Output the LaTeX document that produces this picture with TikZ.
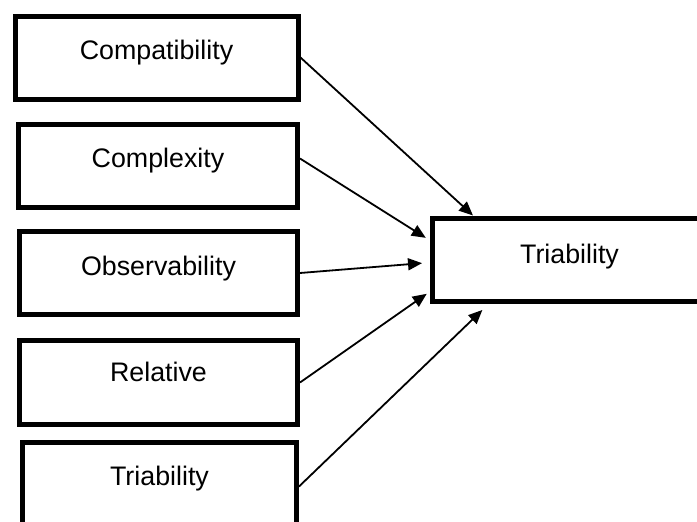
\documentclass[tikz,border=0pt]{standalone}
\usepackage{fontspec}
\setmainfont{Liberation Sans}
\usetikzlibrary{arrows.meta}

\begin{document}
\begin{tikzpicture}[x=1pt,y=-1pt,
    factor/.style={draw=black, line width=5pt, rectangle, inner sep=0pt, minimum height=83pt,
      font=\fontsize{26.8}{32}\selectfont, text height=20pt, text depth=16pt},
    link/.style={black, line width=1.8pt, -{Triangle[length=14pt,width=12pt]}}]
          \useasboundingbox (0,0) rectangle (697,522);
          \clip (0,0) rectangle (697,522);

          \node [factor, minimum width=283pt] (compat) at (156.5,57.5) {Compatibility}; % Draws a box
          \node [factor, minimum width=279pt] (complex) at (158,165.5) {Complexity}; % Draws a box
          \node [factor, minimum width=278pt] (observ) at (158.5,273) {Observability}; % Draws a box
          \node [factor, minimum width=278pt, minimum height=84pt, text depth=23pt] (relat) at (158.5,382.5) {Relative}; % Draws a box
          \node [factor, minimum width=274pt] (triab) at (159.5,483.5) {Triability}; % Draws a box

          \node [factor, minimum width=300pt, text depth=13pt] (target) at (582.5,259.5) {\hspace*{-26pt}Triability}; % Draws a box

          \draw [link] (compat.east) -- ([xshift=43pt]target.north west);
          \draw [link, shorten >=5pt] ([yshift=7pt]complex.east) -- ([yshift=-25pt]target.north west);
          \draw [link, shorten >=8pt] (observ.east) -- ([yshift=-3pt]target.west);
          \draw [link, shorten >=4pt] (relat.east) -- ([yshift=12pt]target.south west);
          \draw [link, shorten >=5pt] ([yshift=-3pt]triab.east) -- ([xshift=56pt,yshift=-3pt]target.south west);
        \end{tikzpicture}
\end{document}
